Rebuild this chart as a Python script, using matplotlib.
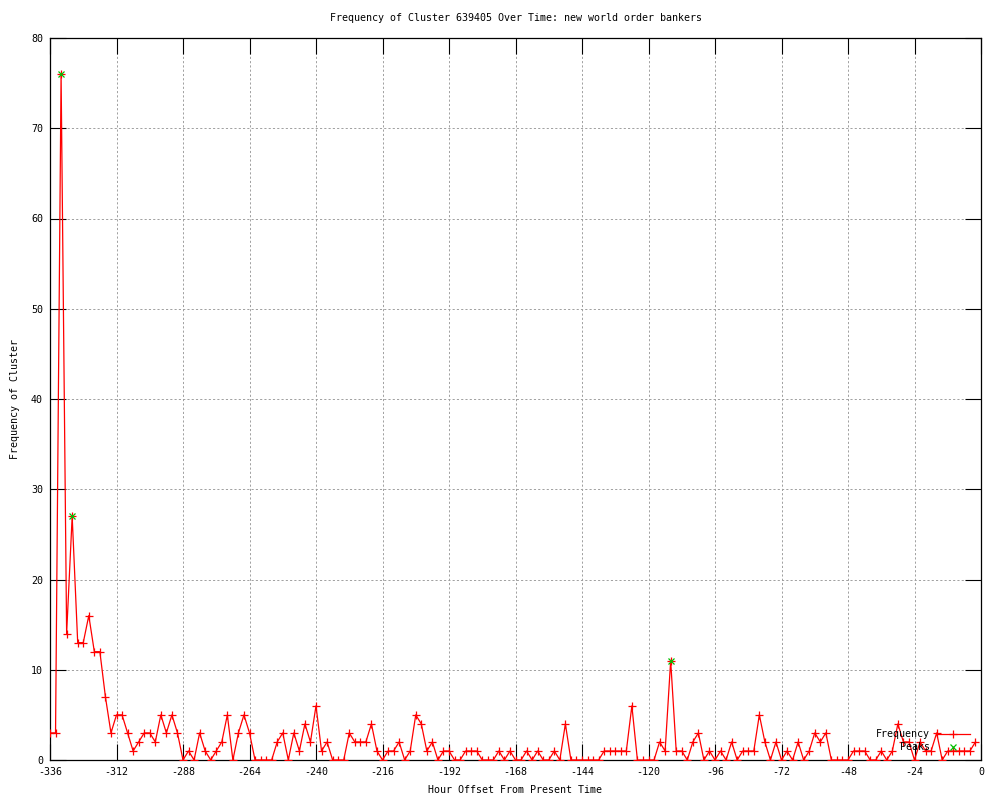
import matplotlib
matplotlib.use("Agg")
import matplotlib.pyplot as plt

plt.rcParams["font.family"] = ["DejaVu Sans Mono"]
plt.rcParams["axes.unicode_minus"] = False

# ---------------------------------------------------------------------------
# Data (2-hour bins, hour offset from present time)
# ---------------------------------------------------------------------------
hours = list(range(-336, 0, 2))
frequency = [
    3, 3, 76, 14, 27, 13, 13, 16, 12, 12, 7, 3,      # -336 .. -314
    5, 5, 3, 1, 2, 3, 3, 2, 5, 3, 5, 3,              # -312 .. -290
    0, 1, 0, 3, 1, 0, 1, 2, 5, 0, 3, 5,              # -288 .. -266
    3, 0, 0, 0, 0, 2, 3, 0, 3, 1, 4, 2,              # -264 .. -242
    6, 1, 2, 0, 0, 0, 3, 2, 2, 2, 4, 1,              # -240 .. -218
    0, 1, 1, 2, 0, 1, 5, 4, 1, 2, 0, 1,              # -216 .. -194
    1, 0, 0, 1, 1, 1, 0, 0, 0, 1, 0, 1,              # -192 .. -170
    0, 0, 1, 0, 1, 0, 0, 1, 0, 4, 0, 0,              # -168 .. -146
    0, 0, 0, 0, 1, 1, 1, 1, 1, 6, 0, 0,              # -144 .. -122
    0, 0, 2, 1, 11, 1, 1, 0, 2, 3, 0, 1,             # -120 .. -98
    0, 1, 0, 2, 0, 1, 1, 1, 5, 2, 0, 2,              # -96 .. -74
    0, 1, 0, 2, 0, 1, 3, 2, 3, 0, 0, 0,              # -72 .. -50
    0, 1, 1, 1, 0, 0, 1, 0, 1, 4, 2, 2,              # -48 .. -26
    0, 2, 1, 1, 3, 0, 1, 1, 1, 1, 1, 2,              # -24 .. -2
]
peak_hours = [-332, -328, -112]
peak_values = [76, 27, 11]

x_ticks = list(range(-336, 1, 24))
y_ticks = list(range(0, 81, 10))

TITLE = "Frequency of Cluster 639405 Over Time: new world order bankers"
FS = 7.2

fig = plt.figure(figsize=(10, 8), dpi=100)
ax = fig.add_axes([0.05, 0.05, 0.931, 0.9025])

ax.plot(hours, frequency, color="#ff0000", linewidth=0.9, marker="+",
        markersize=6, markeredgewidth=0.9, label="Frequency", zorder=3)
ax.plot(peak_hours, peak_values, linestyle="none", color="#00c000",
        marker="x", markersize=5, markeredgewidth=0.9, label="Peaks", zorder=4)

ax.set_xlim(-336, 0)
ax.set_ylim(0, 80)
ax.set_xticks(x_ticks)
ax.set_yticks(y_ticks)
ax.tick_params(direction="in", length=11.5, width=0.8, top=True, right=True,
               labelsize=FS, pad=5, colors="black")
ax.grid(True, color="#a0a0a0", linestyle=(0, (2.2, 2.2)), linewidth=0.7)
ax.set_axisbelow(True)
for s in ax.spines.values():
    s.set_linewidth(0.9)

ax.set_title(TITLE, fontsize=FS, pad=12)
ax.set_xlabel("Hour Offset From Present Time", fontsize=FS, labelpad=6)
ax.set_ylabel("Frequency of Cluster", fontsize=FS, labelpad=8)

ax.legend(loc="lower right", bbox_to_anchor=(0.988, 0.011), frameon=False,
          markerfirst=False, fontsize=FS, borderaxespad=0, borderpad=0,
          handlelength=3.3, handletextpad=0.7, labelspacing=0.3, numpoints=1)

fig.savefig("out.png", dpi=100)
